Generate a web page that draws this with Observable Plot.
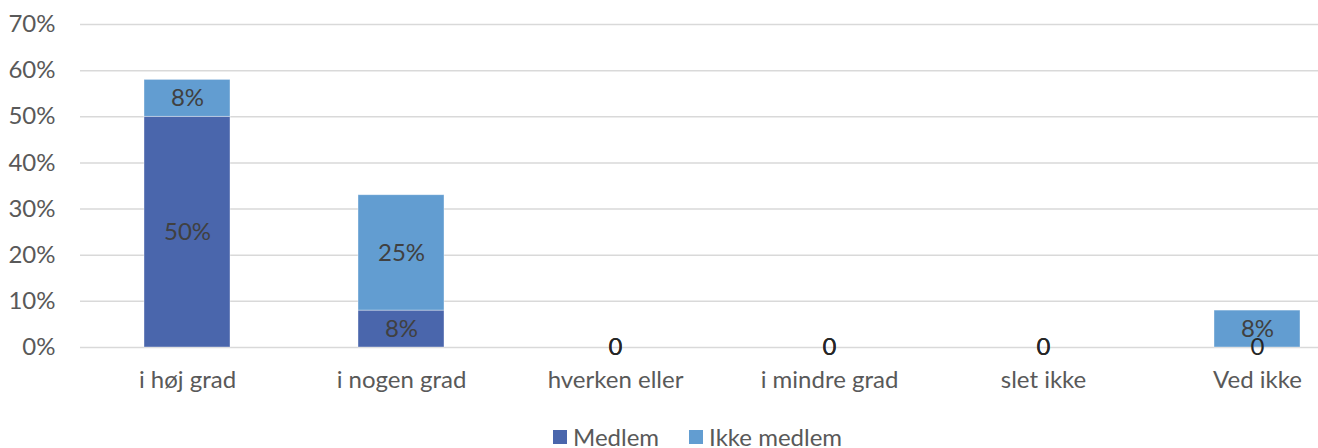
<!DOCTYPE html>
<html>
<head>
<meta charset="utf-8">
<script src="https://cdn.jsdelivr.net/npm/d3@7"></script>
<script src="https://cdn.jsdelivr.net/npm/@observablehq/plot@0.6"></script>
<style>
  html, body { margin: 0; padding: 0; background: #fff; }
  #wrap { position: relative; width: 1318px; height: 448px; overflow: hidden; font-family: Lato, "Liberation Sans", sans-serif; }
  #legend { position: absolute; left: 553px; top: 424px; display: flex; align-items: center; font-size: 24px; color: #595959; line-height: 26px; }
  .sw { width: 14px; height: 14px; display: inline-block; margin-right: 6px; }
  .item { display: flex; align-items: center; margin-right: 30px; }
</style>
</head>
<body>
<div id="wrap"></div>
<script>
const categories = ["i høj grad", "i nogen grad", "hverken eller", "i mindre grad", "slet ikke", "Ved ikke"];
const seriesNames = ["Medlem", "Ikke medlem"];
const medlem = [50, 8, 0, 0, 0, 0];
const ikkeMedlem = [8, 25, 0, 0, 0, 8];
const colors = ["#4A66AC", "#629DD1"];
const yTicks = [0, 10, 20, 30, 40, 50, 60, 70];

const data = [];
categories.forEach((c, i) => {
  data.push({cat: c, series: seriesNames[0], value: medlem[i]});
  data.push({cat: c, series: seriesNames[1], value: ikkeMedlem[i]});
});

const font = "Lato, 'Liberation Sans', sans-serif";

const chart = Plot.plot({
  width: 1318,
  height: 422,
  marginTop: 24,
  marginBottom: 75,
  marginLeft: 80,
  marginRight: 0,
  style: {fontFamily: font, fontSize: "24px", color: "#595959", background: "white"},
  x: {domain: categories, range: [80, 1364], paddingInner: 0.6, paddingOuter: 0.3, label: null},
  y: {domain: [0, 70], label: null},
  color: {domain: seriesNames, range: colors},
  marks: [
    Plot.gridY(yTicks, {stroke: "#d9d9d9", strokeOpacity: 1, strokeWidth: 1.5}),
    Plot.barY(data, {x: "cat", y: "value", fill: "series", order: seriesNames, stroke: "white", strokeOpacity: 0.5, strokeWidth: 0.75, inset: 0}),
    Plot.text(data, Plot.stackY({
      x: "cat", y: "value", z: "series", order: seriesNames,
      text: d => d.value === 0 ? "0" : d.value + "%",
      fill: d => d.value === 0 ? "#262626" : "#404040",
      fontSize: 24
    })),
    Plot.axisY(yTicks, {tickSize: 0, tickPadding: 25, tickFormat: d => d + "%", fill: "#595959", fontSize: 24}),
    Plot.axisX({tickSize: 0, tickPadding: 23, fill: "#595959", fontSize: 24})
  ]
});

const wrap = document.getElementById("wrap");
wrap.appendChild(chart);

const legend = document.createElement("div");
legend.id = "legend";
seriesNames.forEach((s, i) => {
  const item = document.createElement("div");
  item.className = "item";
  const sw = document.createElement("span");
  sw.className = "sw";
  sw.style.background = colors[i];
  const t = document.createElement("span");
  t.textContent = s;
  item.appendChild(sw);
  item.appendChild(t);
  legend.appendChild(item);
});
wrap.appendChild(legend);
</script>
</body>
</html>
